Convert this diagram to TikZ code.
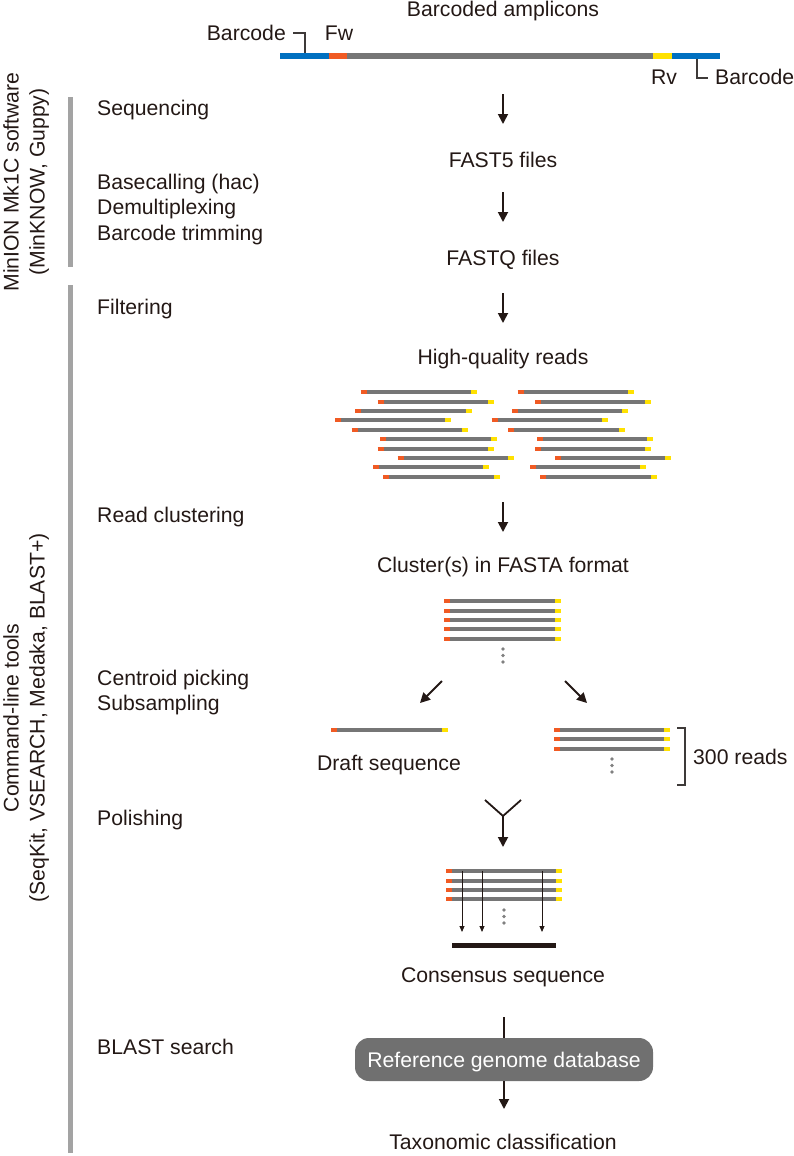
\documentclass[tikz,border=0pt]{standalone}
\usepackage{fontspec}
\setmainfont{Liberation Sans}
\usetikzlibrary{arrows.meta}
\definecolor{ink}{RGB}{35,24,21}
\definecolor{bcblue}{RGB}{0,112,192}
\definecolor{fwor}{RGB}{240,90,35}
\definecolor{rvye}{RGB}{255,225,0}
\definecolor{readgray}{RGB}{118,118,118}
\definecolor{sidegray}{RGB}{163,163,163}
\definecolor{boxgray}{RGB}{112,112,112}
\definecolor{dotgray}{RGB}{128,128,128}
\definecolor{brk}{RGB}{62,58,57}
\newcommand{\seqread}[3]{%
  \draw[line width=4pt, readgray] (#1+6,#3) -- (#2-6,#3);
  \draw[line width=4pt, fwor] (#1,#3) -- (#1+6,#3);
  \draw[line width=4pt, rvye] (#2-6,#3) -- (#2,#3);}
\newcommand{\vdotsgray}[2]{%
  \fill[dotgray] (#1,#2) circle (1.8);
  \fill[dotgray] (#1,#2+6.5) circle (1.8);
  \fill[dotgray] (#1,#2+13) circle (1.8);}
\begin{document}
\begin{tikzpicture}[x=1pt,y=-1pt,
  font=\fontsize{21.2}{25}\selectfont,
  txt/.style={inner sep=0pt, text height=15.2pt, text depth=0pt, text=ink},
  lbl/.style={txt, anchor=west},
  arr/.style={draw=ink, line width=1.8pt, -{Triangle[width=10pt,length=10pt]}},
  thinarr/.style={draw=ink, line width=0.9pt, -{Triangle[width=5pt,length=6pt]}},
  plain/.style={draw=ink, line width=1.8pt},
  leader/.style={draw=brk, line width=1.2pt},
  sidebar/.style={draw=sidegray, line width=5pt},
  sidetxt/.style={txt, rotate=90}]
\useasboundingbox (0,0) rectangle (794,1156);

% ---- side bars and group titles
\draw[sidebar] (70.5,97) -- (70.5,267);
\draw[sidebar] (70.5,285) -- (70.5,1153);
\node[sidetxt] (g1a) at (11,182) {MinION Mk1C software};
\node[sidetxt] (g1b) at (37,182) {(MinKNOW, Guppy)};
\node[sidetxt] (g2a) at (11,718) {Command-line tools};
\node[sidetxt] (g2b) at (37,718) {(SeqKit, VSEARCH, Medaka, BLAST+)};

% ---- step labels
\node[lbl] (s1) at (97,108) {Sequencing};
\node[lbl] (s2) at (97,182) {Basecalling (hac)};
\node[lbl] (s3) at (97,207) {Demultiplexing};
\node[lbl] (s4) at (97,233) {Barcode trimming};
\node[lbl] (s5) at (97,307) {Filtering};
\node[lbl] (s6) at (97,515) {Read clustering};
\node[lbl] (s7) at (97,678) {Centroid picking};
\node[lbl] (s8) at (97,703) {Subsampling};
\node[lbl] (s9) at (97,818) {Polishing};
\node[lbl] (s10) at (97,1047) {BLAST search};

% ---- amplicon
\node[txt] (amp) at (503,9) {Barcoded amplicons};
\draw[line width=6pt, bcblue] (280,56) -- (329,56);
\draw[line width=6pt, fwor] (329,56) -- (347,56);
\draw[line width=6pt, readgray] (347,56) -- (653,56);
\draw[line width=6pt, rvye] (653,56) -- (672,56);
\draw[line width=6pt, bcblue] (672,56) -- (720,56);
\node[txt, anchor=east] (bcl) at (286,33) {Barcode};
\node[txt] (fw) at (339,33) {Fw};
\node[txt] (rv) at (664,77) {Rv};
\node[txt, anchor=west] (bcr) at (715,77) {Barcode};
\coordinate (bclA) at (293,33);
\coordinate (bclB) at (305,33);
\coordinate (bclC) at (305,53);
\draw[leader] (bclA) -- (bclB) -- (bclC);
\coordinate (bcrA) at (697,59);
\coordinate (bcrB) at (697,78);
\coordinate (bcrC) at (708,78);
\draw[leader] (bcrA) -- (bcrB) -- (bcrC);

% ---- sequencing
\coordinate (a1s) at (503,94);
\coordinate (a1e) at (503,124);
\draw[arr] (a1s) -- (a1e);
\node[txt] (fast5) at (503,160) {FAST5 files};
\coordinate (a2s) at (503,192);
\coordinate (a2e) at (503,222);
\draw[arr] (a2s) -- (a2e);
\node[txt] (fastq) at (503,258) {FASTQ files};
\coordinate (a3s) at (503,293);
\coordinate (a3e) at (503,323);
\draw[arr] (a3s) -- (a3e);
\node[txt] (hq) at (503,357) {High-quality reads};

% ---- reads
\seqread{360.7}{476.7}{392.3}
\seqread{377.7}{494}{401.7}
\seqread{355}{471.7}{411}
\seqread{335}{451}{420.3}
\seqread{351.7}{467.7}{429.7}
\seqread{380}{496.7}{439}
\seqread{377.7}{494}{448.7}
\seqread{397.7}{514}{458}
\seqread{373.3}{489.3}{467.3}
\seqread{383.3}{500}{476.7}
\seqread{517.7}{634}{392.3}
\seqread{535}{651}{401.7}
\seqread{512.3}{628.3}{411}
\seqread{491.7}{607.7}{420.3}
\seqread{508.3}{625}{429.7}
\seqread{537.3}{653.3}{439}
\seqread{535}{651}{448.7}
\seqread{555}{671}{458}
\seqread{530}{646}{467.3}
\seqread{540}{656.7}{476.7}

\coordinate (a4s) at (503,502);
\coordinate (a4e) at (503,532);
\draw[arr] (a4s) -- (a4e);
\node[txt] (clu) at (503,565) {Cluster(s) in FASTA format};

% ---- cluster
\seqread{444}{561}{601}
\seqread{444}{561}{610.7}
\seqread{444}{561}{620}
\seqread{444}{561}{629.3}
\seqread{444}{561}{639}
\vdotsgray{503}{649}

\coordinate (d1s) at (442,681);
\coordinate (d1e) at (420,703);
\draw[arr] (d1s) -- (d1e);
\coordinate (d2s) at (565,681);
\coordinate (d2e) at (587,703);
\draw[arr] (d2s) -- (d2e);

% ---- draft & subsample
\seqread{331}{448}{730}
\node[txt] (draft) at (389,763) {Draft sequence};
\seqread{554}{670}{730}
\seqread{554}{670}{739.3}
\seqread{554}{670}{748.7}
\vdotsgray{612}{759}
\coordinate (bk1) at (677,728);
\coordinate (bk2) at (685,728);
\coordinate (bk3) at (685,785);
\coordinate (bk4) at (677,785);
\draw[leader] (bk1) -- (bk2) -- (bk3) -- (bk4);
\node[txt, anchor=west] (r300) at (693,757) {300 reads};

% ---- polishing
\coordinate (yl) at (485,800);
\coordinate (yr) at (521,800);
\coordinate (yj) at (503,816);
\coordinate (ye) at (503,847);
\draw[plain] (yl) -- (yj) -- (yr);
\draw[arr] (yj) -- (ye);
\seqread{446}{562}{871}
\seqread{446}{562}{880.7}
\seqread{446}{562}{890}
\seqread{446}{562}{899.3}
\coordinate (p1s) at (462,871);
\coordinate (p1e) at (462,932);
\coordinate (p2s) at (482,871);
\coordinate (p2e) at (482,932);
\coordinate (p3s) at (542,871);
\coordinate (p3e) at (542,932);
\draw[thinarr] (p1s) -- (p1e);
\draw[thinarr] (p2s) -- (p2e);
\draw[thinarr] (p3s) -- (p3e);
\vdotsgray{504}{910}
\coordinate (cs1) at (452,945);
\coordinate (cs2) at (556,945);
\draw[line width=5pt, ink] (cs1) -- (cs2);
\node[txt] (cons) at (503,975) {Consensus sequence};

% ---- BLAST
\node[txt, text=white, fill=boxgray, rounded corners=14pt, minimum width=298pt, minimum height=43pt,
      text height=15.2pt] (db) at (504,1059.5) {Reference genome database};
\coordinate (b1s) at (504,1017);
\draw[draw=ink, line width=1.8pt] (b1s) -- (db.north);
\coordinate (b2e) at (504,1109);
\draw[arr] (db.south) -- (b2e);
\node[txt] (tax) at (503,1142) {Taxonomic classification};
\end{tikzpicture}
\end{document}
